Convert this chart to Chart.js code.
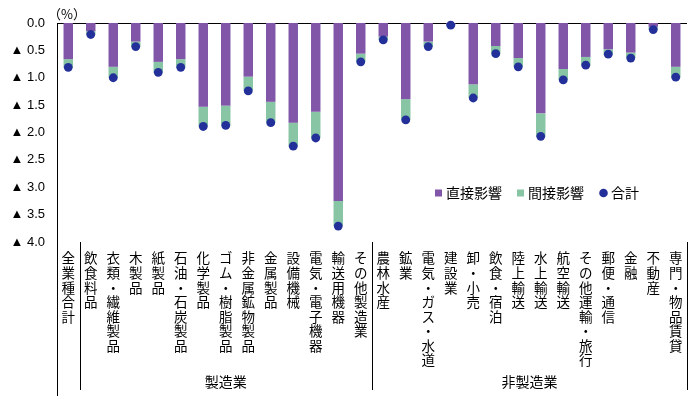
<!DOCTYPE html>
<html><head><meta charset="utf-8">
<script src="https://cdn.jsdelivr.net/npm/chart.js@4"></script>
<style>html,body{margin:0;padding:0;background:#fff}#wrap{width:700px;height:396px;position:relative}</style>
</head><body><div id="wrap"><canvas id="c" width="700" height="396"></canvas></div>
<script>
const categories = ['全業種合計','飲食料品','衣類・繊維製品','木製品','紙製品','石油・石炭製品','化学製品','ゴム・樹脂製品','非金属鉱物製品','金属製品','設備機械','電気・電子機器','輸送用機器','その他製造業','農林水産','鉱業','電気・ガス・水道','建設業','卸・小売','飲食・宿泊','陸上輸送','水上輸送','航空輸送','その他運輸・旅行','郵便・通信','金融','不動産','専門・物品賃貸'];
const directValues   = [0.66,0.15,0.80,0.34,0.71,0.66,1.53,1.51,0.98,1.44,1.82,1.62,3.25,0.56,0.25,1.39,0.34,0.03,1.12,0.42,0.64,1.65,0.84,0.62,0.48,0.54,0.07,0.80];
const indirectValues = [0.15,0.06,0.20,0.09,0.19,0.15,0.36,0.36,0.26,0.38,0.43,0.48,0.46,0.15,0.06,0.38,0.09,0.01,0.25,0.14,0.16,0.42,0.20,0.15,0.09,0.10,0.05,0.19];
const totalValues    = [0.81,0.21,1.00,0.43,0.90,0.81,1.89,1.87,1.24,1.82,2.25,2.10,3.71,0.71,0.31,1.77,0.43,0.04,1.37,0.56,0.80,2.07,1.04,0.77,0.57,0.64,0.12,0.99];
const seriesNames = ['直接影響','間接影響','合計'];
const yTickValues = [0,0.5,1,1.5,2,2.5,3,3.5,4];
const yTickLabels = ['0.0','▲ 0.5','▲ 1.0','▲ 1.5','▲ 2.0','▲ 2.5','▲ 3.0','▲ 3.5','▲ 4.0'];
const groupLabels = ['製造業','非製造業'];
const groupFirst = [1,14];
const groupLast = [13,27];
const unitLabel = '（%）';

const COL_D = '#8156A9', COL_I = '#87C5A4', COL_T = '#23309A';
const JP = "'Noto Sans CJK JP', sans-serif";

const extras = {
  id: 'extras',
  beforeDatasetsDraw(chart) {
    const ctx = chart.ctx, ys = chart.scales.y, ca = chart.chartArea;
    const py = Math.round(ys.getPixelForValue(0)) + 0.5;
    ctx.save();
    ctx.strokeStyle = '#000'; ctx.lineWidth = 1;
    ctx.beginPath(); ctx.moveTo(ca.left, py); ctx.lineTo(ca.right, py); ctx.stroke();
    ctx.restore();
  },
  afterDraw(chart) {
    const ctx = chart.ctx, xs = chart.scales.x, ca = chart.chartArea;
    const half = (xs.getPixelForValue(1) - xs.getPixelForValue(0)) / 2;
    const bounds = new Set([-0.5]);
    groupFirst.forEach(g => bounds.add(g - 0.5));
    groupLast.forEach(g => bounds.add(g + 0.5));
    ctx.save();
    ctx.strokeStyle = '#000'; ctx.lineWidth = 1;
    bounds.forEach(b => {
      const px = Math.round(xs.getPixelForValue(Math.floor(b + 0.5)) - half) + 0.5;
      ctx.beginPath();
      ctx.moveTo(px, ca.bottom);
      ctx.lineTo(px, b === -0.5 ? chart.height : 390);
      ctx.stroke();
    });
    ctx.fillStyle = '#000';
    ctx.font = '14px ' + JP;
    ctx.textAlign = 'center'; ctx.textBaseline = 'middle';
    groupLabels.forEach((g, i) => {
      const l = xs.getPixelForValue(groupFirst[i]) - half;
      const r = xs.getPixelForValue(groupLast[i]) + half;
      ctx.fillText(g, (l + r) / 2, 382);
    });
    ctx.font = '13px ' + JP; ctx.textAlign = 'left';
    ctx.fillText(unitLabel, 48, 14);
    const ly = 193;
    ctx.font = '14px ' + JP; ctx.textAlign = 'left';
    ctx.fillStyle = COL_D; ctx.fillRect(435, ly - 3.5, 7, 7);
    ctx.fillStyle = '#000'; ctx.fillText(seriesNames[0], 446, ly);
    ctx.fillStyle = COL_I; ctx.fillRect(517, ly - 3.5, 7, 7);
    ctx.fillStyle = '#000'; ctx.fillText(seriesNames[1], 528, ly);
    ctx.fillStyle = COL_T; ctx.beginPath(); ctx.arc(603.5, ly, 4.3, 0, Math.PI * 2); ctx.fill();
    ctx.fillStyle = '#000'; ctx.fillText(seriesNames[2], 611, ly);
    ctx.restore();
  }
};

new Chart(document.getElementById('c'), {
  data: {
    labels: categories,
    datasets: [
      { type: 'line', label: seriesNames[2], data: totalValues, showLine: false, stack: 't',
        pointRadius: 4.4, pointBackgroundColor: COL_T, pointBorderWidth: 0, borderColor: COL_T, order: 0, clip: false },
      { type: 'bar', label: seriesNames[0], data: directValues, backgroundColor: COL_D, stack: 'a', order: 1,
        categoryPercentage: 1, barPercentage: 0.42 },
      { type: 'bar', label: seriesNames[1], data: indirectValues, backgroundColor: COL_I, stack: 'a', order: 1,
        categoryPercentage: 1, barPercentage: 0.42 }
    ]
  },
  options: {
    responsive: false, animation: false, devicePixelRatio: 1,
    layout: { padding: { top: 23, right: 13, left: 0, bottom: 0 } },
    plugins: { legend: { display: false }, tooltip: { enabled: false } },
    scales: {
      x: {
        stacked: true,
        grid: { display: false, drawTicks: false },
        border: { display: false },
        ticks: {
          autoSkip: false, maxRotation: 0, minRotation: 0, padding: 9, color: '#000',
          font: { family: JP, size: 13.5, lineHeight: 1.08 },
          callback: (v, i) => Array.from(categories[i])
        },
        afterFit: s => { s.height = 154; }
      },
      y: {
        stacked: true, reverse: true, min: 0, max: 4,
        grid: { display: false, drawTicks: false },
        border: { display: true, color: '#000' },
        ticks: {
          stepSize: 0.5, padding: 12, color: '#000',
          font: { family: "'Liberation Sans', 'DejaVu Sans', sans-serif", size: 13 },
          callback: (v) => yTickLabels[yTickValues.indexOf(v)]
        },
        afterFit: s => { s.width = 57; }
      }
    }
  },
  plugins: [extras]
});
</script></body></html>
